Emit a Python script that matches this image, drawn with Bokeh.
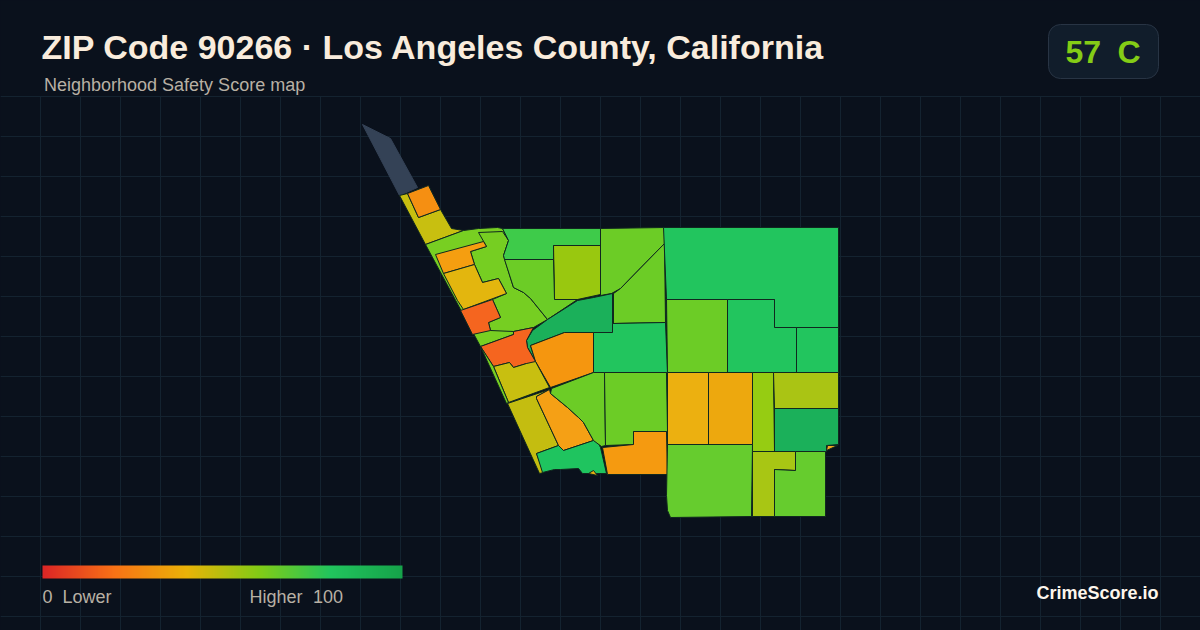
import numpy as np
from bokeh.plotting import figure
from bokeh.models import Range1d
from bokeh.core.properties import value
from bokeh.embed import file_html
from bokeh.resources import INLINE

BG = "#0a111c"
GRID = "#142330"
EDGE = "#10281f"

TITLE = "ZIP Code 90266 · Los Angeles County, California"
SUBTITLE = "Neighborhood Safety Score map"
BRAND = "CrimeScore.io"

grid_x = list(range(40, 1200, 40))
grid_y = list(range(96, 630, 40))

G = "#22c55e"; T = "#1bb05a"; L = "#6ccc26"; O = "#f59a10"; Y = "#c8bf10"

areas = [
    ("#344256", [(362,124),(390,138),(417,187),(399,195)]),
    (Y, [(399,195),(407,193),(418,217),(440,209),(451,228),(463,230),(425,244)]),
    ("#f58f12", [(407,193),(428,185),(440,209),(418,217)]),
    ("#78cf22", [(425,244),(463,230),(478,228),(497,227),(502,228),(508,240),(503,255),(513,287),(523,292),(530,298),(547,319),(533,327),(513,331),(513,334),(480,346)]),
    ("#76ce22", [(478,232),(502,231),(508,240),(503,255),(513,287),(523,292),(530,298),(547,319),(533,327),(513,331),(490,330),(488,322),(500,317),(492,299),(506,293),(498,278),(482,282),(474,264),(470,251),(486,246)]),
    ("#f59e10", [(435,254),(483,241),(486,246),(470,251),(474,264),(443,273)]),
    ("#e3b60e", [(443,273),(474,264),(482,282),(498,278),(506,293),(463,309),(457,300)]),
    ("#f5651f", [(460,310),(492,299),(500,317),(488,322),(490,330),(472,334)]),
    ("#3ecb4a", [(502,228),(600,228),(600,245),(553,245),(553,259),(504,259),(503,255),(508,240)]),
    ("#99c80f", [(553,245),(600,245),(600,294),(577,299),(554,299)]),
    (L, [(504,259),(553,259),(554,299),(577,299),(547,319),(530,298),(523,292),(513,287)]),
    (L, [(600,228),(664,227),(664,243),(620,288),(611,293),(600,295)]),
    (L, [(664,243),(665,322),(613,323),(613,293),(620,288)]),
    (T, [(612,293),(612,332),(564,332),(530,345),(535,361),(527,347),(526,340),(532,330),(547,319),(577,300),(593,297)]),
    (G, [(593,332),(612,332),(612,323),(665,322),(667,372),(593,372)]),
    ("#f5960f", [(564,332),(593,332),(593,372),(550,387),(535,361),(530,345)]),
    ("#f5651f", [(480,346),(513,334),(513,331),(533,327),(526,340),(527,347),(535,361),(533,364),(527,365),(526,363),(513,367),(509,362),(493,366)]),
    (Y, [(493,366),(509,362),(513,367),(526,363),(535,361),(549,387),(508,402)]),
    ("#78cf22", [(480,346),(493,366),(508,402),(506,403)]),
    ("#c4bd10", [(507,403),(549,389),(536,396),(536,398),(558,445),(536,453),(543,472),(539,473)]),
    ("#f5a015", [(549,389),(550,393),(567,407),(578,417),(583,422),(593,440),(563,450),(558,445),(536,398),(536,396)]),
    ("#1fc45f", [(536,453),(558,445),(563,450),(593,440),(597,441),(600,447),(606,473),(582,473),(578,468),(560,469),(554,469),(542,472)]),
    ("#e8b010", [(588,473),(593,470),(597,475)]),
    (L, [(551,388),(593,372),(604,372),(605,445),(601,446),(593,440),(583,422),(578,417),(567,407),(550,393)]),
    (L, [(604,372),(666,372),(667,431),(633,431),(633,444),(605,445)]),
    (O, [(633,431),(666,431),(667,474),(607,474),(602,447),(633,444)]),
    (G, [(663,227),(838,227),(838,327),(774,327),(774,299),(666,299)]),
    (L, [(666,299),(727,299),(727,372),(667,372)]),
    (G, [(727,299),(774,299),(774,327),(796,327),(796,372),(727,372)]),
    (G, [(796,327),(838,327),(838,372),(796,372)]),
    ("#ecb010", [(667,372),(708,372),(708,444),(667,444)]),
    ("#eda80e", [(708,372),(752,372),(752,444),(708,444)]),
    ("#96cc12", [(752,372),(773,372),(774,451),(752,451)]),
    ("#aac414", [(773,372),(838,372),(838,408),(774,408)]),
    (T, [(774,408),(838,408),(838,444),(826,445),(826,451),(774,451)]),
    ("#f0a820", [(826,450),(827,445),(837,445)]),
    ("#66cc2e", [(667,444),(752,444),(751,516),(670,517),(667,510),(666,495)]),
    ("#a8c614", [(752,451),(795,451),(795,470),(774,469),(774,516),(752,516)]),
    ("#66cc2e", [(795,451),(825,451),(825,516),(774,516),(774,469),(795,470)]),
]

scale_stops = [0, 0.2, 0.4, 0.6, 0.8, 1]
scale_colors = [(220,38,38), (249,115,22), (234,179,8), (132,204,22), (34,197,94), (22,163,74)]

p = figure(width=1200, height=630, x_range=Range1d(0, 1200), y_range=Range1d(630, 0),
           output_backend="svg", toolbar_location=None, min_border=0,
           background_fill_color=BG, border_fill_color=BG, outline_line_color=None)
p.axis.visible = False
p.grid.visible = False

p.segment(grid_x, [96]*len(grid_x), grid_x, [630]*len(grid_x), line_color=GRID, line_width=1)
p.segment([0]*len(grid_y), grid_y, [1200]*len(grid_y), grid_y, line_color=GRID, line_width=1)

for i, (c, pts) in enumerate(areas):
    xs = [q[0] for q in pts]
    ys = [q[1] for q in pts]
    ec = c if i == 0 else EDGE
    p.patch(xs, ys, fill_color=c, line_color=ec, line_width=1, line_join="round")

t = np.linspace(0, 1, 360)
r = np.interp(t, scale_stops, [c[0] for c in scale_colors])
g = np.interp(t, scale_stops, [c[1] for c in scale_colors])
b = np.interp(t, scale_stops, [c[2] for c in scale_colors])
img = np.zeros((1, 360), dtype=np.uint32)
v = img.view(dtype=np.uint8).reshape((1, 360, 4))
v[0, :, 0] = r; v[0, :, 1] = g; v[0, :, 2] = b; v[0, :, 3] = 255
p.image_rgba(image=[img], x=42, y=565, dw=360, dh=13)

p.rect(x=[1103], y=[51], width=[110], height=[54], fill_color="#111d2b", line_color="#283444",
       line_width=1, border_radius=12)

def label(x, y, s, size, color, bold=False, align="left"):
    p.text([x], [y], text=[s], text_font=value("Liberation Sans"), text_font_size=size,
           text_font_style="bold" if bold else "normal", text_color=color,
           text_align=align, text_baseline="middle")

label(41, 46, TITLE, "34px", "#f9ecdc", True)
label(43.5, 84, SUBTITLE, "18px", "#b8b0a4")
label(1065, 51, "57", "32px", "#84cc16", True)
label(1117, 51, "C", "32px", "#84cc16", True)
label(42, 596, "0", "18px", "#b8b0a4")
label(62, 596, "Lower", "18px", "#b8b0a4")
label(249, 596, "Higher", "18px", "#b8b0a4")
label(312.5, 596, "100", "18px", "#b8b0a4")
label(1158, 592.5, BRAND, "18px", "#fdf6ec", True, "right")

html = file_html(p, INLINE).replace("<body>", '<body style="background:%s">' % BG)
open("out.html", "w").write(html)
